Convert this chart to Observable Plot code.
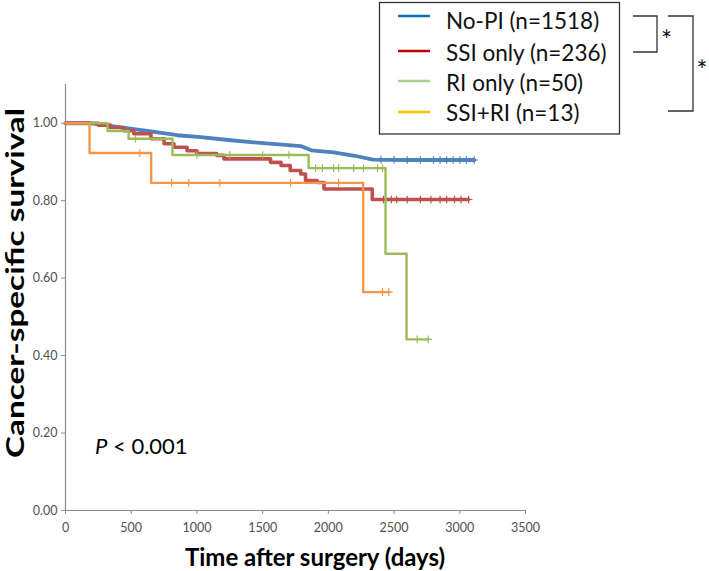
<!DOCTYPE html>
<html>
<head>
<meta charset="utf-8">
<script src="https://cdn.jsdelivr.net/npm/d3@7"></script>
<script src="https://cdn.jsdelivr.net/npm/@observablehq/plot@0.6"></script>
<style>
  html, body { margin: 0; padding: 0; background: #ffffff; }
</style>
</head>
<body>
<div id="chart"></div>
<script>
// ---- data ----
const groups = ["No-PI (n=1518)", "SSI only (n=236)", "RI only (n=50)", "SSI+RI (n=13)"];
const lineColors = ["#4f81bd", "#c0504d", "#9bbb59", "#f79646"];
const legendColors = ["#0070c0", "#c00000", "#a9d18e", "#ffc000"];

const noPiDays = [0, 180, 300, 450, 650, 850, 1030, 1200, 1410, 1600, 1790, 1870, 2040, 2200, 2340, 2600, 2900, 3110];
const noPiSurv = [1.0, 1.0, 0.995, 0.988, 0.979, 0.969, 0.964, 0.958, 0.951, 0.946, 0.941, 0.930, 0.925, 0.916, 0.906, 0.905, 0.905, 0.905];

const ssiDays = [0, 250, 340, 440, 520, 650, 750, 825, 925, 1000, 1150, 1205, 1560, 1640, 1710, 1790, 1826, 1915, 1967, 2334, 3067];
const ssiSurv = [1.0, 0.995, 0.989, 0.981, 0.973, 0.960, 0.947, 0.938, 0.929, 0.922, 0.917, 0.908, 0.899, 0.891, 0.878, 0.869, 0.852, 0.847, 0.830, 0.803, 0.803];

const riDays = [0, 320, 480, 814, 1850, 2435, 2595, 2760];
const riSurv = [1.0, 0.98, 0.96, 0.918, 0.884, 0.663, 0.442, 0.442];

const bothDays = [0, 183, 652, 2265, 2466];
const bothSurv = [1.0, 0.923, 0.846, 0.564, 0.564];

// censoring marks (day, survival)
const noPiCensorDays = [2400, 2500, 2600, 2700, 2800, 2850, 2900, 2950, 3000, 3050, 3110];
const noPiCensorSurv = [0.906, 0.906, 0.905, 0.905, 0.905, 0.905, 0.905, 0.905, 0.905, 0.905, 0.905];
const ssiCensorDays = [2420, 2480, 2520, 2600, 2700, 2780, 2850, 2900, 2960, 3010, 3067];
const ssiCensorSurv = [0.803, 0.803, 0.803, 0.803, 0.803, 0.803, 0.803, 0.803, 0.803, 0.803, 0.803];
const riCensorDays = [533, 1000, 1250, 1500, 1700, 1903, 1955, 2040, 2078, 2192, 2268, 2374, 2412, 2676, 2760];
const riCensorSurv = [0.96, 0.918, 0.918, 0.918, 0.918, 0.884, 0.884, 0.884, 0.884, 0.884, 0.884, 0.884, 0.884, 0.442, 0.442];
const bothCensorDays = [565, 807, 938, 1174, 1712, 2078, 2412, 2460];
const bothCensorSurv = [0.923, 0.846, 0.846, 0.846, 0.846, 0.846, 0.564, 0.564];

const xTicks = [0, 500, 1000, 1500, 2000, 2500, 3000, 3500];
const yTicks = [0, 0.2, 0.4, 0.6, 0.8, 1.0];
const xLabel = "Time after surgery (days)";
const yLabel = "Cancer-specific survival";
const pLabelItalic = "P";
const pLabelRest = " < 0.001";

// ---- build tables ----
const toRows = (days, surv, g) => days.map((d, i) => ({day: d, surv: surv[i], group: g}));
const curves = [
  toRows(noPiDays, noPiSurv, groups[0]),
  toRows(ssiDays, ssiSurv, groups[1]),
  toRows(riDays, riSurv, groups[2]),
  toRows(bothDays, bothSurv, groups[3])
];
const censors = [
  toRows(noPiCensorDays, noPiCensorSurv, groups[0]),
  toRows(ssiCensorDays, ssiCensorSurv, groups[1]),
  toRows(riCensorDays, riCensorSurv, groups[2]),
  toRows(bothCensorDays, bothCensorSurv, groups[3])
];
const widths = [3.8, 3.6, 2.4, 2.4];
const curveTypes = ["linear", "step-after", "step-after", "step-after"];

const axisGray = "#8c8c8c";
const font = "Lato, 'Open Sans', sans-serif";

const marks = [
  Plot.ruleX([0], {stroke: axisGray, strokeWidth: 1.2}),
  Plot.ruleY([0], {stroke: axisGray, strokeWidth: 1.2}),
  Plot.axisX({ticks: xTicks, tickSize: 4, tickPadding: 9, fontSize: 12.5, stroke: axisGray, fill: "#505050", label: null, tickFormat: d3.format("d")}),
  Plot.axisY({ticks: yTicks, tickSize: 4, tickPadding: 4, fontSize: 12.5, stroke: axisGray, fill: "#505050", label: null, tickFormat: d3.format(".2f")})
];
for (let i = 0; i < 4; i++) {
  marks.push(Plot.line(curves[i], {x: "day", y: "surv", stroke: lineColors[i], strokeWidth: widths[i], curve: curveTypes[i]}));
  marks.push(Plot.dot(censors[i], {x: "day", y: "surv", symbol: "plus", r: 2.6, stroke: lineColors[i], strokeWidth: 1.2}));
}

const svgEl = Plot.plot({
  width: 709,
  height: 571,
  marginLeft: 65,
  marginRight: 184,
  marginTop: 84,
  marginBottom: 61,
  style: {fontFamily: font, background: "#ffffff", overflow: "visible"},
  x: {domain: [0, 3500]},
  y: {domain: [0, 1.1]},
  marks
});

document.getElementById("chart").appendChild(svgEl);

// ---- annotations: axis titles, legend, brackets, p-value ----
const svg = d3.select(svgEl);

svg.append("text")
  .attr("x", 315).attr("y", 566)
  .attr("text-anchor", "middle")
  .attr("font-family", font).attr("font-weight", "bold").attr("font-size", 24)
  .attr("textLength", 260).attr("lengthAdjust", "spacingAndGlyphs")
  .attr("fill", "#000")
  .text(xLabel);

svg.append("text")
  .attr("transform", "translate(24,283) rotate(-90)")
  .attr("text-anchor", "middle")
  .attr("font-family", font).attr("font-weight", "bold").attr("font-size", 25)
  .attr("textLength", 350).attr("lengthAdjust", "spacingAndGlyphs")
  .attr("fill", "#000")
  .text(yLabel);

const pText = svg.append("text")
  .attr("x", 95).attr("y", 454)
  .attr("text-anchor", "start")
  .attr("font-family", font).attr("font-size", 22).attr("fill", "#000");
pText.append("tspan").attr("font-style", "italic").text(pLabelItalic);
pText.append("tspan").text(pLabelRest);

const leg = svg.append("g");
leg.append("rect")
  .attr("x", 379.5).attr("y", 2.5).attr("width", 240).attr("height", 131.5)
  .attr("fill", "#fff").attr("stroke", "#333").attr("stroke-width", 1.3);
const lineY = [16, 51, 81, 112];
const textY = [21, 53, 83, 113];
groups.forEach((g, i) => {
  leg.append("line")
    .attr("x1", 398).attr("x2", 430).attr("y1", lineY[i]).attr("y2", lineY[i])
    .attr("stroke", legendColors[i]).attr("stroke-width", 2.5);
  leg.append("text")
    .attr("x", 446).attr("y", textY[i]).attr("dy", "0.35em")
    .attr("text-anchor", "start")
    .attr("font-family", font).attr("font-size", 22.5).attr("fill", "#111")
    .text(g);
});

svg.append("path")
  .attr("d", "M633,16H657V52H633")
  .attr("fill", "none").attr("stroke", "#333").attr("stroke-width", 1.3);
svg.append("path")
  .attr("d", "M668,16H693V111H668")
  .attr("fill", "none").attr("stroke", "#333").attr("stroke-width", 1.3);
svg.append("text").attr("x", 666.5).attr("y", 50).attr("text-anchor", "middle")
  .attr("font-family", font).attr("font-size", 26).attr("fill", "#111").text("*");
svg.append("text").attr("x", 702).attr("y", 80).attr("text-anchor", "middle")
  .attr("font-family", font).attr("font-size", 26).attr("fill", "#111").text("*");
</script>
</body>
</html>
